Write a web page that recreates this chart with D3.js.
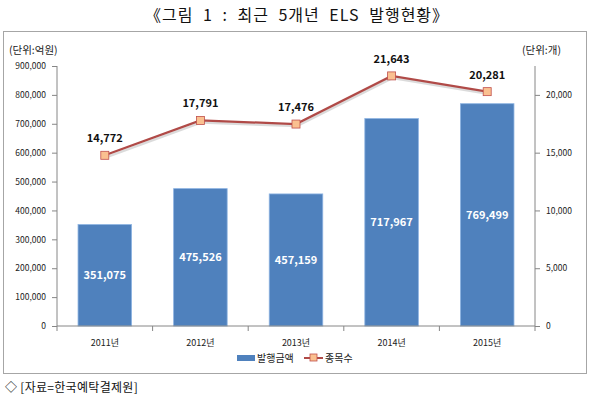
<!DOCTYPE html>
<html><head><meta charset="utf-8">
<script src="https://cdn.jsdelivr.net/npm/d3@7/dist/d3.min.js"></script>
<style>body{margin:0;background:#fff}svg{display:block}</style>
</head><body>
<svg id="c" width="590" height="400"></svg>
<script>
const categories = ["2011년","2012년","2013년","2014년","2015년"];
const amounts = [351075, 475526, 457159, 717967, 769499];
const counts = [14772, 17791, 17476, 21643, 20281];
const leftTicks = [0,100000,200000,300000,400000,500000,600000,700000,800000,900000];
const rightTicks = [0,5000,10000,15000,20000];
const seriesNames = ["발행금액","종목수"];

const svg = d3.select("#c");
const font = "'Noto Sans CJK KR', 'Noto Sans', sans-serif";
const fmt = d3.format(",");

svg.append("text").attr("x",297).attr("y",21).attr("text-anchor","middle")
  .attr("font-family",font).attr("font-size",16).attr("fill","#111")
  .attr("letter-spacing",1).attr("word-spacing",5)
  .text("《그림 1 : 최근 5개년 ELS 발행현황》");

svg.append("rect").attr("x",3.5).attr("y",31.5).attr("width",583).attr("height",342)
  .attr("fill","#fff").attr("stroke","#a6a6a6");

const L=57, R=535, T=66, B=326;
const x = d3.scaleBand().domain(categories).range([L,R]).paddingInner(0.44).paddingOuter(0.22);
const y = d3.scaleLinear().domain([0,900000]).range([B,T]);
const y2 = d3.scaleLinear().domain([0,22500]).range([B,T]);

// bars
svg.append("g").selectAll("rect").data(amounts).join("rect")
  .attr("x",(d,i)=>x(categories[i])).attr("width",x.bandwidth())
  .attr("y",d=>y(d)).attr("height",d=>B-y(d))
  .attr("fill","#4f81bd").attr("stroke","#8db3e2").attr("stroke-width",0.8);

svg.append("g").selectAll("text").data(amounts).join("text")
  .attr("x",(d,i)=>x(categories[i])+x.bandwidth()/2)
  .attr("y",d=>(y(d)+B)/2+4)
  .attr("text-anchor","middle").attr("font-family",font).attr("font-weight","bold")
  .attr("font-size",11).attr("fill","#fff").text(d=>fmt(d));

// axes
const axisColor="#868686";
const gl = svg.append("g").attr("transform",`translate(${L},0)`)
  .call(d3.axisLeft(y).tickValues(leftTicks).tickSize(5).tickPadding(6).tickFormat(fmt));
const gr = svg.append("g").attr("transform",`translate(${R},0)`)
  .call(d3.axisRight(y2).tickValues(rightTicks).tickSize(5).tickPadding(6).tickFormat(fmt));
[gl,gr].forEach(g=>{
  g.select(".domain").attr("stroke",axisColor).attr("d",`M0,${T}V${B}`);
  g.selectAll(".tick line").attr("stroke",axisColor);
  g.selectAll(".tick text").attr("font-family",font).attr("font-size",8.5).attr("fill","#222");
});
// category axis
const gx = svg.append("g").attr("transform",`translate(0,${B})`)
  .call(d3.axisBottom(x).tickSize(0).tickPadding(14));
gx.select(".domain").attr("stroke",axisColor).attr("d",`M${L},0H${R}`);
gx.selectAll(".tick text").attr("font-family",font).attr("font-size",9).attr("fill","#222");
const bounds = d3.range(categories.length+1).map(i=>L+i*(R-L)/categories.length);
gx.append("g").selectAll("line").data(bounds).join("line")
  .attr("x1",d=>d).attr("x2",d=>d).attr("y1",0).attr("y2",5).attr("stroke",axisColor);

// line series
const cx=(i)=>x(categories[i])+x.bandwidth()/2;
const line = d3.line().x((d,i)=>cx(i)).y(d=>y2(d));
svg.append("path").datum(counts).attr("d",line).attr("fill","none")
  .attr("stroke","#b7b7b7").attr("stroke-width",2.5).attr("transform","translate(1,2)").attr("opacity",0.5);
svg.append("path").datum(counts).attr("d",line).attr("fill","none")
  .attr("stroke","#b04a47").attr("stroke-width",2.2);
svg.append("g").selectAll("rect").data(counts).join("rect")
  .attr("x",(d,i)=>cx(i)-4).attr("y",d=>y2(d)-4).attr("width",8).attr("height",8)
  .attr("fill","#fac090").attr("stroke","#c0504d").attr("stroke-width",0.8);
svg.append("g").selectAll("text").data(counts).join("text")
  .attr("x",(d,i)=>cx(i)).attr("y",d=>y2(d)-13)
  .attr("text-anchor","middle").attr("font-family",font).attr("font-weight","bold")
  .attr("font-size",11).attr("fill","#111").text(d=>fmt(d));

// unit labels
svg.append("text").attr("x",9).attr("y",54).attr("font-family",font).attr("font-size",10.5)
  .attr("fill","#222").text("(단위:억원)");
svg.append("text").attr("x",522).attr("y",54).attr("font-family",font).attr("font-size",10.5)
  .attr("fill","#222").text("(단위:개)");

// legend
const lg = svg.append("g");
lg.append("rect").attr("x",237).attr("y",355).attr("width",18).attr("height",6).attr("fill","#4f81bd");
lg.append("text").attr("x",257).attr("y",362).attr("font-family",font).attr("font-size",10).attr("fill","#222").text(seriesNames[0]);
lg.append("line").attr("x1",304).attr("x2",323).attr("y1",358).attr("y2",358).attr("stroke","#b04a47").attr("stroke-width",2);
lg.append("rect").attr("x",310).attr("y",354).attr("width",7).attr("height",7).attr("fill","#fac090").attr("stroke","#c0504d").attr("stroke-width",0.8);
lg.append("text").attr("x",325).attr("y",362).attr("font-family",font).attr("font-size",10).attr("fill","#222").text(seriesNames[1]);

svg.append("text").attr("x",5).attr("y",392).attr("font-family",font).attr("font-size",12)
  .attr("fill","#111").attr("letter-spacing",0.3).text("◇ [자료=한국예탁결제원]");
</script>
</body></html>
